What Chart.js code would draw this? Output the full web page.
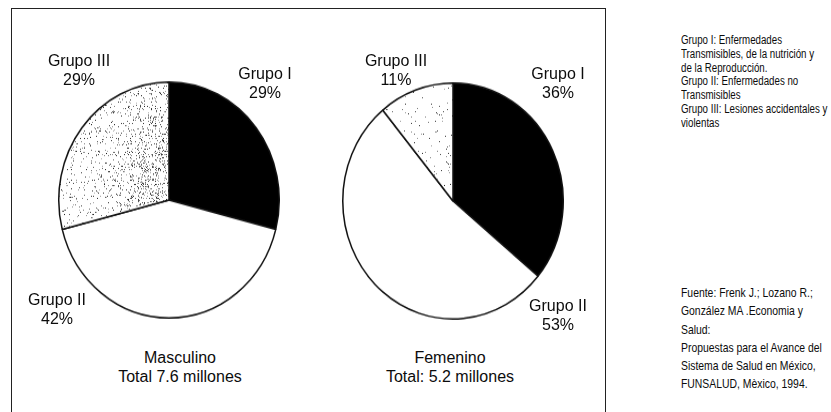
<!DOCTYPE html>
<html lang="es">
<head>
<meta charset="utf-8">
<title>Distribución por grupos de causas</title>
<script src="https://cdn.jsdelivr.net/npm/chart.js@4/dist/chart.umd.min.js"></script>
<style>
  html, body { margin: 0; padding: 0; background: #fff; }
  body { width: 831px; height: 412px; position: relative; overflow: hidden;
         font-family: "Liberation Sans", Arial, sans-serif; color: #0c0c0c; }
  #frame { position: absolute; left: 11px; top: 8px; width: 593px; height: 420px;
           border: 1px solid #222; border-bottom: none; }
  .pie { position: absolute; width: 224px; height: 224px; transform: scaleY(1.07); transform-origin: 50% 50%; }
  .lbl { position: absolute; width: 160px; text-align: center; font-size: 16px; line-height: 18.5px; white-space: nowrap; }
  .note { position: absolute; left: 681px; white-space: nowrap; transform-origin: 0 0; }
  #defs { top: 34px; font-size: 12px; line-height: 13.75px; transform: scaleX(0.81); }
  #src  { top: 284px; font-size: 13px; line-height: 18.3px; transform: scaleX(0.8); }
</style>
</head>
<body>
<div id="frame"></div>
<canvas id="pieM" class="pie" width="224" height="224" style="left:57px; top:88px;"></canvas>
<canvas id="pieF" class="pie" width="224" height="224" style="left:341px; top:89px;"></canvas>
<div id="defs" class="note"></div>
<div id="src" class="note"></div>

<script>
// Groups of causes and their share (%) of deaths by sex
const groups = ['Grupo I', 'Grupo II', 'Grupo III'];
const masculino = [29, 42, 29];
const femenino = [36, 53, 11];
const titles = ['Masculino', 'Femenino'];
const totals = ['Total 7.6 millones', 'Total: 5.2 millones'];

const definitions = [
  'Grupo I: Enfermedades',
  'Transmisibles, de la nutrición y',
  'de la Reproducción.',
  'Grupo II: Enfermedades no',
  'Transmisibles',
  'Grupo III: Lesiones accidentales y',
  'violentas'
];
const source = [
  'Fuente: Frenk J.; Lozano R.;',
  'González MA .Economia y',
  'Salud:',
  'Propuestas para el Avance del',
  'Sistema de Salud en México,',
  'FUNSALUD, Mèxico, 1994.'
];

// Stippled fill for the third group: a deterministic dot texture the size of
// the canvas, denser towards the pie's centre line.
function stipple(base, peak, seed) {
  const n = 224;
  const c = document.createElement('canvas');
  c.width = n; c.height = n;
  const g = c.getContext('2d');
  g.fillStyle = '#fff';
  g.fillRect(0, 0, n, n);
  let s = seed;
  const rnd = () => { s = (s * 1103515245 + 12345) % 2147483648; return s / 2147483648; };
  for (let y = 0; y < n; y++) {
    for (let x = 0; x < n; x++) {
      const dx = (x - 104) / 30, dy = (y - 80) / 45;
      const p = base + peak * Math.exp(-(dx * dx + dy * dy) / 2);
      if (rnd() < p) {
        const shade = 30 + Math.floor(rnd() * 150);
        g.fillStyle = `rgb(${shade},${shade},${shade})`;
        g.fillRect(x, y, 1, 1);
      }
    }
  }
  return g.createPattern(c, 'no-repeat');
}

function pie(id, values, texture) {
  const ctx = document.getElementById(id).getContext('2d');
  return new Chart(ctx, {
    type: 'pie',
    data: {
      labels: groups,
      datasets: [{
        data: values,
        backgroundColor: ['#000', '#fff', texture],
        borderColor: '#111',
        borderWidth: 1.5,
        borderAlign: 'center'
      }]
    },
    options: {
      responsive: false,
      animation: false,
      layout: { padding: 1 },
      plugins: { legend: { display: false }, tooltip: { enabled: false } }
    }
  });
}

pie('pieM', masculino, stipple(0.045, 0.15, 7));
pie('pieF', femenino, stipple(0.01, 0.012, 19));

// Text labels around each pie
function label(lines, cx, top) {
  const d = document.createElement('div');
  d.className = 'lbl';
  d.style.left = (cx - 80) + 'px';
  d.style.top = top + 'px';
  d.innerHTML = lines.map(t => `<div>${t}</div>`).join('');
  document.body.appendChild(d);
}
const pct = v => v + '%';

// Masculino
label([groups[2], pct(masculino[2])], 79, 52);
label([groups[0], pct(masculino[0])], 265, 65);
label([groups[1], pct(masculino[1])], 57, 291);
label([titles[0], totals[0]], 180, 349);

// Femenino
label([groups[2], pct(femenino[2])], 396, 52);
label([groups[0], pct(femenino[0])], 558, 65);
label([groups[1], pct(femenino[1])], 558, 297);
label([titles[1], totals[1]], 450, 349);

document.getElementById('defs').innerHTML = definitions.map(t => `<div>${t}</div>`).join('');
document.getElementById('src').innerHTML = source.map(t => `<div>${t}</div>`).join('');
</script>
</body>
</html>
